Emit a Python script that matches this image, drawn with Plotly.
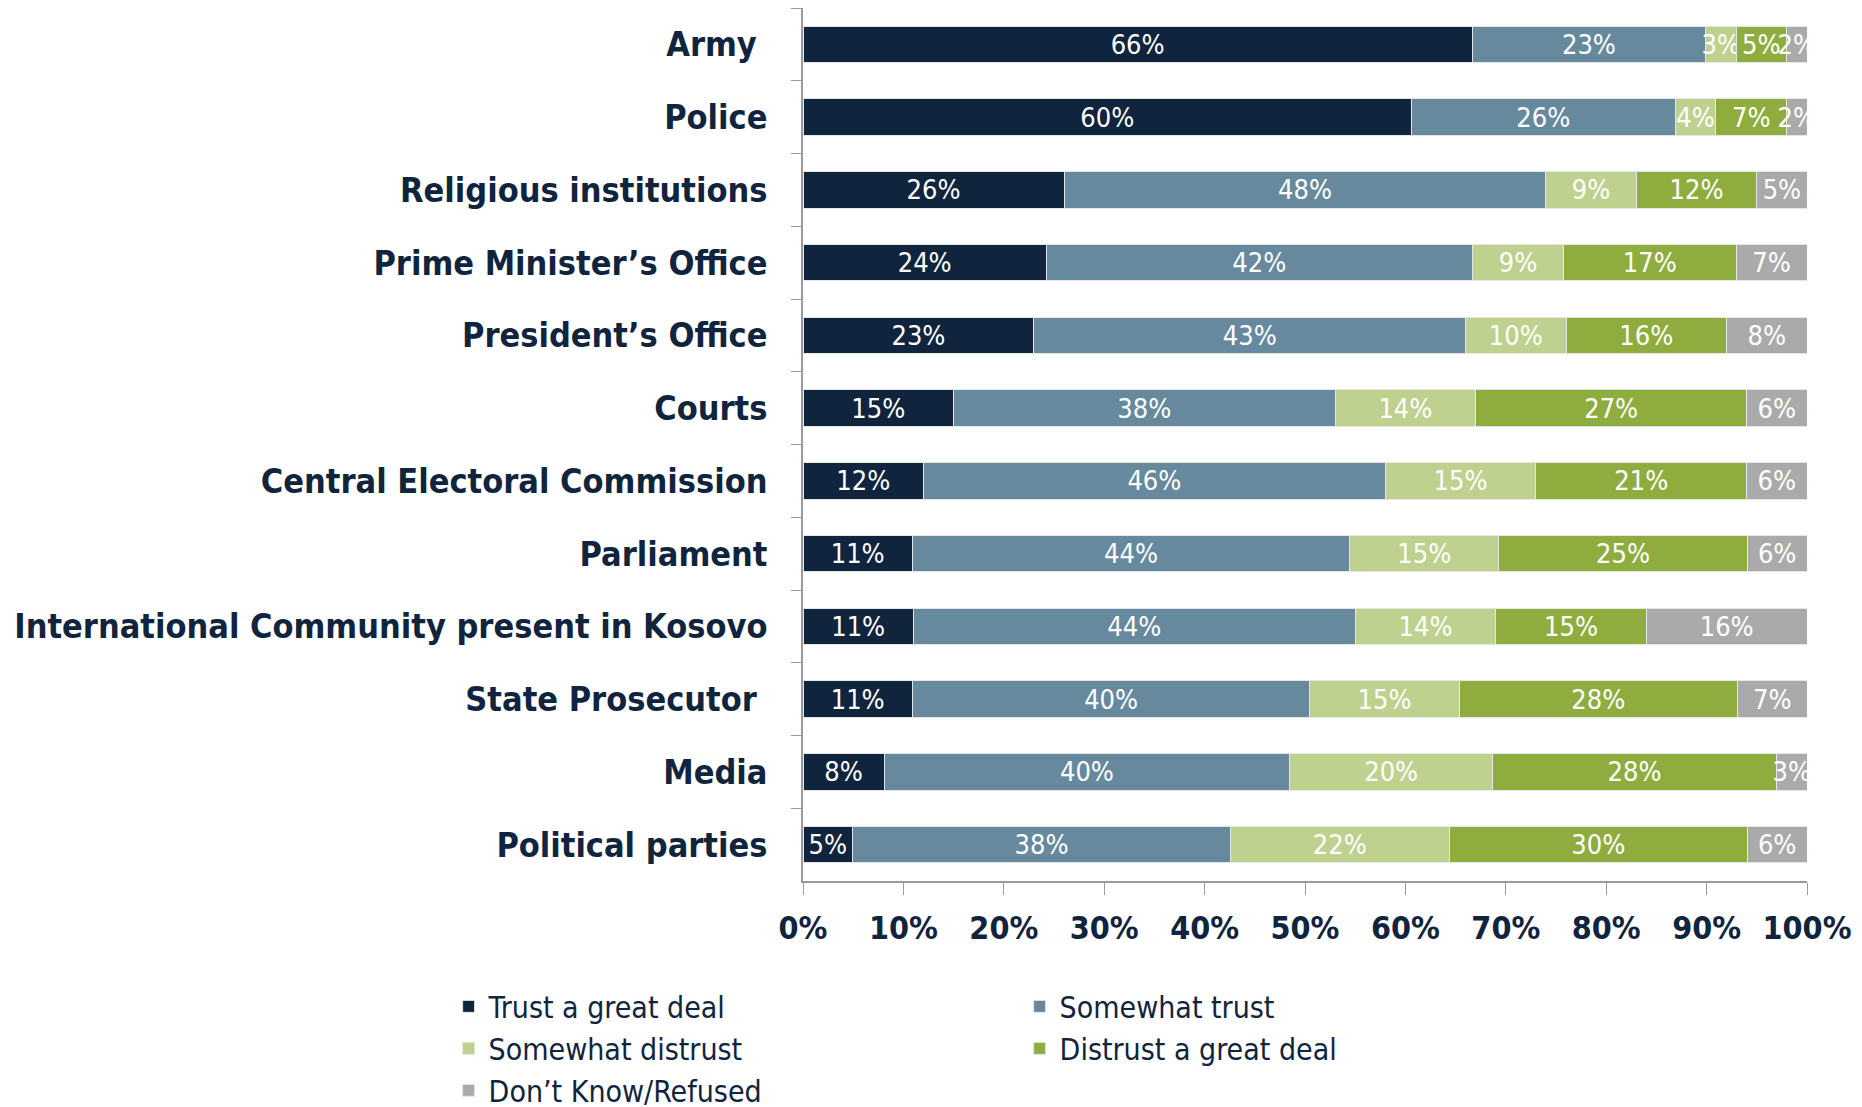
import plotly.graph_objects as go

# институты сверху вниз
institutions = [
    "Army ", "Police", "Religious institutions", "Prime Minister’s Office",
    "President’s Office", "Courts", "Central Electoral Commission", "Parliament",
    "International Community present in Kosovo", "State Prosecutor ", "Media",
    "Political parties",
]

trust_great = [66, 60, 26, 24, 23, 15, 12, 11, 11, 11, 8, 5]
somewhat_trust = [23, 26, 48, 42, 43, 38, 46, 44, 44, 40, 40, 38]
somewhat_distrust = [3, 4, 9, 9, 10, 14, 15, 15, 14, 15, 20, 22]
distrust_great = [5, 7, 12, 17, 16, 27, 21, 25, 15, 28, 28, 30]
dont_know = [2, 2, 5, 7, 8, 6, 6, 6, 16, 7, 3, 6]

series = [
    ("Trust a great deal", trust_great, "#10243d"),
    ("Somewhat trust", somewhat_trust, "#66899e"),
    ("Somewhat distrust", somewhat_distrust, "#bed18e"),
    ("Distrust a great deal", distrust_great, "#8fad3f"),
    ("Don’t Know/Refused", dont_know, "#aaaaaa"),
]

FONT = "DejaVu Sans Condensed"
NAVY = "#10243d"

fig = go.Figure()
for name, vals, color in series:
    fig.add_trace(go.Bar(
        y=institutions,
        x=vals,
        name=name,
        orientation="h",
        marker=dict(color=color, line=dict(color="#e6e6e6", width=1)),
        text=[f"{v}%" for v in vals],
        textposition="inside",
        insidetextanchor="middle",
        constraintext="none",
        textangle=0,
        textfont=dict(family=FONT, size=27, color="white"),
        cliponaxis=False,
    ))

fig.update_layout(
    width=1862,
    height=1107,
    barmode="stack",
    barnorm="percent",
    bargap=0.5,
    plot_bgcolor="white",
    paper_bgcolor="white",
    margin=dict(l=795, r=63, t=0, b=234, autoexpand=False),
    font=dict(family=FONT, color=NAVY),
    legend=dict(
        orientation="h",
        traceorder="normal",
        x=-0.4476, xanchor="left",
        y=-0.005, yanchor="top",
        entrywidth=526,
        # прозрачная рамка, чтобы легенда переносилась по 2 элемента
        borderwidth=95,
        bordercolor="rgba(0,0,0,0)",
        bgcolor="rgba(0,0,0,0)",
        font=dict(family=FONT, size=30, color=NAVY),
        itemwidth=30,
        tracegroupgap=0,
    ),
)

fig.update_xaxes(
    range=[0, 100.0001],
    tickvals=[0, 10, 20, 30, 40, 50, 60, 70, 80, 90, 100],
    ticktext=[f"{v}%" for v in range(0, 101, 10)],
    showgrid=False,
    zeroline=False,
    showline=True,
    linecolor="#9a9a9a",
    linewidth=1.5,
    ticks="outside",
    ticklen=12,
    tickcolor="#9a9a9a",
    ticklabelstandoff=6,
    tickfont=dict(family=FONT, size=32, color=NAVY, weight="bold"),
)

fig.update_yaxes(
    autorange="reversed",
    showgrid=False,
    showline=True,
    linecolor="#9a9a9a",
    linewidth=1.5,
    ticks="outside",
    tickson="boundaries",
    ticklen=10,
    tickcolor="#9a9a9a",
    ticklabelstandoff=27,
    tickfont=dict(family=FONT, size=34, color=NAVY, weight="bold"),
)

fig.write_html("out.html")
